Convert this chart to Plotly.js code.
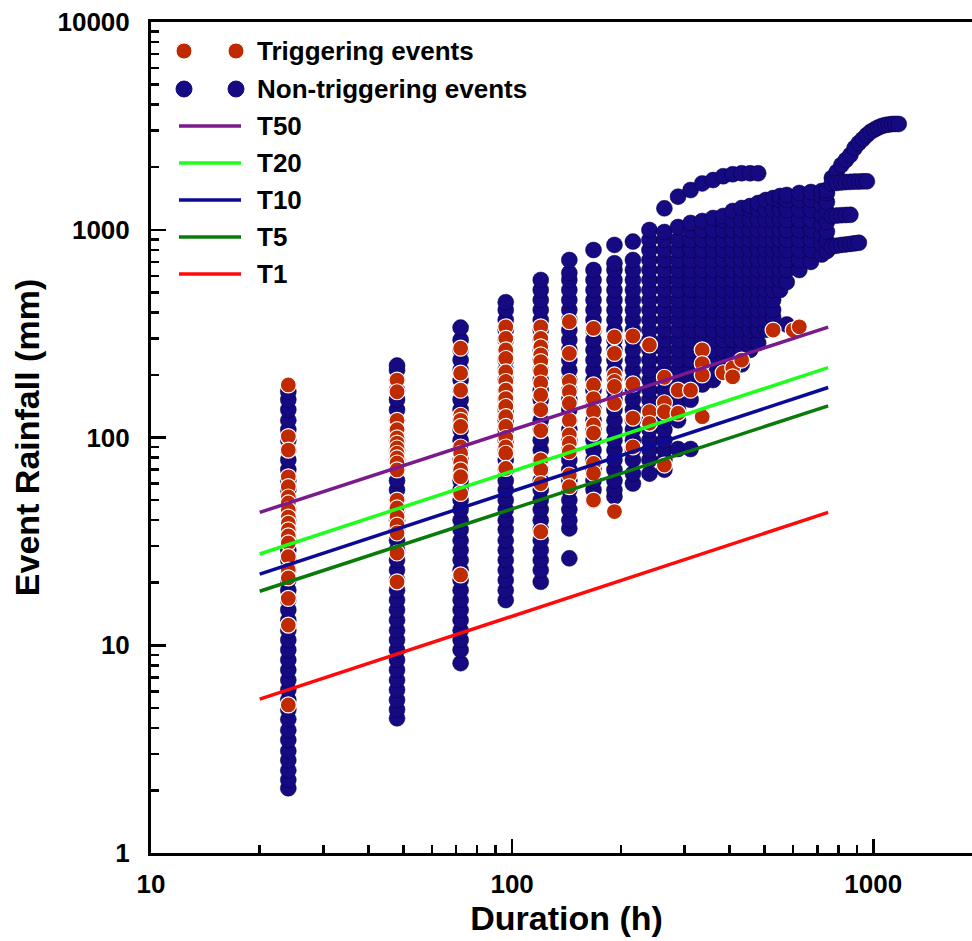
<!DOCTYPE html>
<html><head><meta charset="utf-8">
<script src="https://cdn.plot.ly/plotly-3.0.1.min.js"></script>
<style>html,body{margin:0;padding:0;overflow:hidden;background:#fff}#chart{width:982px;height:941px}</style>
</head><body><div id="chart"></div>
<script>
// ---------- tick labels ----------
const xTickVals = [10, 100, 1000];
const xTickText = ['10', '100', '1000'];
const xMinorVals = [20,30,40,50,60,70,80,90,200,300,400,500,600,700,800,900,2000];
const yTickVals = [1, 10, 100, 1000, 10000];
const yTickText = ['1', '10', '100', '1000', '10000'];
const yMinorVals = [2,3,4,5,6,7,8,9,20,30,40,50,60,70,80,90,200,300,400,500,600,700,800,900,2000,3000,4000,5000,6000,7000,8000,9000];

// ---------- non-triggering events (duration columns, rainfall mm) ----------
const ntCols = [24,48,72,96,120,144,168,192,216,240,264,288,312,336,360,384,408,432,456,480,504,528,552,576,624,672,720,744];
const ntRain = [
 [2.05,2.25,2.5,2.8,3.1,3.5,3.9,4.4,4.9,5.45,6.1,6.8,7.6,8.5,9.5,10.6,11.8,13.2,14.8,16.5,18.4,20.6,23,25.7,28.7,32,36,40,45,50,56,62,70,78,87,97,109,121,136,152,166],
 [4.45,4.9,5.45,6.1,6.8,7.6,8.5,9.5,10.6,11.8,13.2,14.8,16.5,18.4,20.6,23,25.7,28.7,32,36,40,45,50,56,62,70,78,87,97,109,121,136,152,169,189,211,222],
 [8.2,9.5,10.6,11.8,13.2,14.8,16.5,18.4,20.6,23,25.7,28.7,32,36,40,45,50,56,62,70,78,87,97,109,121,136,152,169,189,211,236,264,295,338],
 [16.5,18.4,20.6,23,25.7,28.7,32,36,40,45,50,56,62,70,78,87,97,109,121,136,152,169,189,211,236,264,295,329,368,411,448],
 [20.2,23,25.7,28.7,32,36,40,45,50,56,62,70,78,87,97,109,121,136,152,169,189,211,236,264,295,329,368,411,459,513,573],
 [26.2,36.5,40,45,50,56,62,70,78,87,97,109,121,136,152,169,189,211,236,264,295,329,368,411,459,513,573,619,715],
 [50,56,62,70,78,87,97,109,121,136,152,169,189,211,236,264,295,329,368,411,459,513,573,640,799],
 [52,56,62,70,78,87,97,109,121,136,152,169,189,211,236,264,295,329,368,411,459,513,573,640,690,845],
 [60,67,78,87,97,109,121,136,152,169,189,211,236,264,295,329,368,411,459,513,573,640,715,877],
 [67,78,87,97,109,121,136,152,169,189,211,236,264,295,329,368,411,459,513,573,640,715,799,893,997],
 [70,78,87,97,109,121,136,152,169,189,211,236,264,295,329,368,411,459,513,573,640,715,799,893,975],
 [88,121,136,152,169,189,211,236,264,295,329,368,411,459,513,573,640,715,799,893,1031],
 [88,152,169,189,211,236,264,295,329,368,411,459,513,573,640,715,799,893,997,1078],
 [180,205,236,264,295,329,368,411,459,513,573,640,715,799,893,997,1102],
 [189,211,236,264,295,329,368,411,459,513,573,640,715,799,893,997,1139],
 [211,236,264,295,329,368,411,459,513,573,640,715,799,893,997,1114,1165],
 [220,250,295,329,368,411,459,513,573,640,715,799,893,997,1114,1231],
 [225,264,295,329,368,411,459,513,573,640,715,799,893,997,1114,1272],
 [264,295,329,368,411,459,513,573,640,715,799,893,997,1114,1245,1301],
 [285,329,368,411,459,513,573,640,715,799,893,997,1114,1245,1345],
 [330,368,411,459,513,573,640,715,799,893,997,1114,1245,1391],
 [340,380,411,459,513,573,640,715,799,893,997,1114,1245,1421],
 [513,573,640,715,799,893,997,1114,1245,1391,1454],
 [350,560,640,715,799,893,997,1114,1245,1391,1470],
 [640,715,799,893,997,1114,1245,1391,1503],
 [700,799,893,997,1114,1245,1391,1519],
 [760,850,950,1060,1180,1320,1460,1537],
 [790,880,980,1090,1220,1360,1500,1554]
];
// long-lasting non-triggering events (paths)
const streakDur  = [264,288,312,336,360,384,408,432,456,480];
const streakRain = [1268,1443,1553,1671,1735,1810,1850,1870,1870,1870];
const tailDur  = [768,792,816,840,864,888,912,936,960,984,1008,1032,1056,1080,1104,1128,1152,1176];
const tailRain = [1775,1897,2050,2167,2290,2475,2616,2734,2858,2965,3038,3106,3158,3193,3210,3228,3230,3230];
const f2Dur  = [768,792,816,840,864,888,912,936,960];
const f2Rain = [1670,1680,1690,1696,1700,1705,1705,1710,1710];
const f3Dur  = [768,792,816,840,864];
const f3Rain = [1165,1170,1175,1178,1180];
const f4Dur  = [768,792,816,840,864,888,912];
const f4Rain = [830,838,845,850,855,860,866];

// ---------- triggering events ----------
const trCols = [24,48,72,96,120,144,168,192,216,240,264,288,312,336,384,408,432,528,600,624];
const trRain = [
 [179,101,87,64.7,58,51.7,48.4,44.8,41.4,38.7,35.9,33.6,31.1,26.7,23.0,21.1,16.8,12.5,5.16],
 [189,166,121,109,99.5,94,89,84,79.7,75.4,69.8,50,45.8,41.6,37.9,34.7,27.8,20.2],
 [269,204,169,128,121,113,90,84,76,69.8,64.8,53.8,21.8],
 [341,300,264,240,207,186,169,154,141,126,113,100,90,84,71],
 [341,300,273,250,232,208,183,160,136,108,78,70,60,35.2],
 [361,254,186,166,146,121,103,93.8,85.4,66,58],
 [335,179,154,133,115,105,75,67.3,50],
 [305,254,200,186,176,146,44],
 [308,181,124,90],
 [279,133,117],
 [195,147,133,73.7],
 [169,131],
 [169],
 [264,227,200,126],
 [205],
 [216,196],
 [236],
 [329],
 [329],
 [341]
];

// ---------- threshold lines ----------
const lineDur = [20, 750];
const T50 = [43.6, 340];
const T20 = [27.5, 217];
const T10 = [22.0, 174];
const T5  = [18.2, 142];
const T1  = [5.5, 43.6];

// ---------- build traces ----------
function flatten(cols, vals){
  const x=[], y=[];
  cols.forEach((c,i)=>vals[i].forEach(v=>{x.push(c); y.push(v);}));
  return {x,y};
}
const nt = flatten(ntCols, ntRain);
[[streakDur,streakRain],[tailDur,tailRain],[f2Dur,f2Rain],[f3Dur,f3Rain],[f4Dur,f4Rain]].forEach(([d,r])=>{
  d.forEach((v,i)=>{nt.x.push(v); nt.y.push(r[i]);});
});
const tr = flatten(trCols, trRain);

const BLUE='#150A82', RED='#C02A00';
const FONT='Liberation Sans, Arial, Helvetica, sans-serif';
const lineColors = {T50:'#7A1A8C', T20:'#1EFF1E', T10:'#0A0A96', T5:'#0A7A0A', T1:'#FF0A0A'};

const traces = [
 {type:'scatter', mode:'markers', name:'Non-triggering events', x:nt.x, y:nt.y,
  marker:{size:16, color:BLUE, line:{color:'rgba(5,0,60,0.8)', width:0.6}}, showlegend:false},
 {type:'scatter', mode:'markers', name:'Triggering events', x:tr.x, y:tr.y,
  marker:{size:16, color:RED, line:{color:'#ffffff', width:1.2}}, showlegend:false},
 {type:'scatter', mode:'lines', name:'T50', x:lineDur, y:T50, line:{color:lineColors.T50, width:3.5}, showlegend:false},
 {type:'scatter', mode:'lines', name:'T20', x:lineDur, y:T20, line:{color:lineColors.T20, width:3.5}, showlegend:false},
 {type:'scatter', mode:'lines', name:'T10', x:lineDur, y:T10, line:{color:lineColors.T10, width:3.5}, showlegend:false},
 {type:'scatter', mode:'lines', name:'T5',  x:lineDur, y:T5,  line:{color:lineColors.T5,  width:3.5}, showlegend:false},
 {type:'scatter', mode:'lines', name:'T1',  x:lineDur, y:T1,  line:{color:lineColors.T1,  width:3.5}, showlegend:false}
];

// ---------- custom legend (Origin style: two dots / long line) ----------
const L=151, T=22, W=831, H=831;
const px = v => (v-L)/W, py = v => (T+H-v)/H;
const legendItems = [
 {label:'Triggering events', kind:'dot', color:RED, edge:'#ffffff', y:51},
 {label:'Non-triggering events', kind:'dot', color:BLUE, edge:BLUE, y:89},
 {label:'T50', kind:'line', color:lineColors.T50, y:126},
 {label:'T20', kind:'line', color:lineColors.T20, y:163},
 {label:'T10', kind:'line', color:lineColors.T10, y:200},
 {label:'T5',  kind:'line', color:lineColors.T5,  y:237},
 {label:'T1',  kind:'line', color:lineColors.T1,  y:274}
];
const shapes=[], annotations=[];
legendItems.forEach(it=>{
  if(it.kind==='dot'){
    [184,236].forEach(cx=>shapes.push({type:'circle', xref:'paper', yref:'paper', xsizemode:'pixel', ysizemode:'pixel',
      xanchor:px(cx), yanchor:py(it.y), x0:-8, x1:8, y0:-8, y1:8, fillcolor:it.color, line:{color:it.edge, width:1}, layer:'above'}));
  } else {
    shapes.push({type:'line', xref:'paper', yref:'paper', x0:px(179), x1:px(241), y0:py(it.y), y1:py(it.y),
      line:{color:it.color, width:3.5}, layer:'above'});
  }
  annotations.push({text:it.label, xref:'paper', yref:'paper', x:px(255), y:py(it.y), xanchor:'left', yanchor:'middle',
    showarrow:false, font:{family:FONT, size:26, weight:'bold', color:'#000'}});
});

const axisCommon = {
  type:'log', showline:true, linecolor:'#000', linewidth:3, mirror:true,
  ticks:'inside', tickwidth:2.5, tickcolor:'#000', showgrid:false, zeroline:false,
  tickmode:'array', tickfont:{family:FONT, size:26, weight:'bold', color:'#000'}
};
const layout = {
  width:982, height:941, margin:{l:L, r:0, t:T, b:941-T-H, pad:0},
  paper_bgcolor:'#fff', plot_bgcolor:'#fff', showlegend:false,
  xaxis:Object.assign({}, axisCommon, {range:[1, Math.log10(2000)], tickvals:xTickVals, ticktext:xTickText, ticklen:14,
    ticklabelstandoff:6,
    minor:{tickmode:'array', tickvals:xMinorVals, ticks:'inside', ticklen:8, tickwidth:2.5, tickcolor:'#000', showgrid:false},
    title:{text:'Duration (h)', font:{family:FONT, size:34, weight:'bold', color:'#000'}, standoff:4}}),
  yaxis:Object.assign({}, axisCommon, {range:[0, 4], tickvals:yTickVals, ticktext:yTickText, ticklen:15,
    ticklabelstandoff:13,
    minor:{tickmode:'array', tickvals:yMinorVals, ticks:'inside', ticklen:8, tickwidth:2.5, tickcolor:'#000', showgrid:false},
    title:{text:'Event Rainfall (mm)', font:{family:FONT, size:34, weight:'bold', color:'#000'}, standoff:8}}),
  shapes, annotations
};
Plotly.newPlot('chart', traces, layout, {staticPlot:true, displayModeBar:false});
</script></body></html>
